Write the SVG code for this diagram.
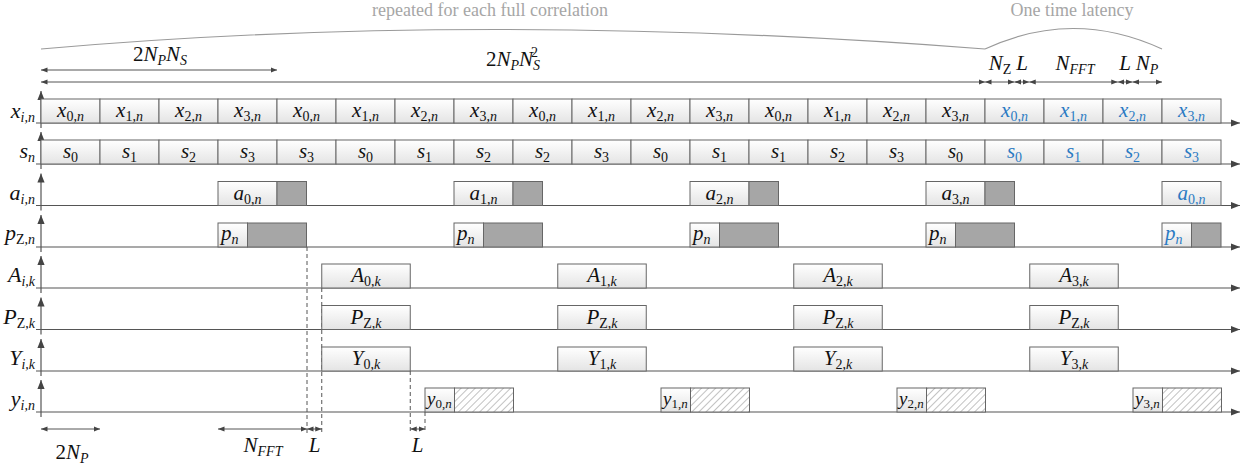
<svg xmlns="http://www.w3.org/2000/svg" width="1242" height="468" viewBox="0 0 1242 468">
  <style>
    .m { font-family: "Liberation Serif", "Times New Roman", serif; font-style: italic; font-size: 21px; fill: #111; }
    .lbl { font-size: 22px; }
    .r { font-style: normal; }
    .sub { font-size: 14px; }
    .blue { fill: #2b7bc3; }
    .note { font-family: "Liberation Serif", "Times New Roman", serif; font-size: 18px; fill: #a6a6a6; }
    .cell { fill: url(#boxfill); stroke: #666; stroke-width: 1; }
    .busy { fill: #a6a6a6; stroke: #666; stroke-width: 1; }
    .hatch { fill: url(#hatch); stroke: #666; stroke-width: 1; }
    .axis { stroke: #555; stroke-width: 1.2; fill: none; }
    .dim { stroke: #555; stroke-width: 1; fill: none; marker-start: url(#ah); marker-end: url(#ah); }
    .dash { stroke: #555; stroke-width: 1; stroke-dasharray: 4 3; fill: none; }
    .brace { stroke: #9a9a9a; stroke-width: 1.2; fill: none; }
    .ysm { font-size: 19px; }
    .ysm .sub { font-size: 13px; }
  </style>
  <defs>
    <linearGradient id="boxfill" x1="0" y1="0" x2="0" y2="1">
      <stop offset="0" stop-color="#ffffff"/>
      <stop offset="1" stop-color="#e4e4e4"/>
    </linearGradient>
    <pattern id="hatch" patternUnits="userSpaceOnUse" width="5" height="5" patternTransform="rotate(45)">
      <rect width="5" height="5" fill="#ffffff"/>
      <line x1="0" y1="0" x2="0" y2="5" stroke="#777" stroke-width="0.9"/>
    </pattern>
    <marker id="ah" viewBox="0 0 10 10" refX="10" refY="5" markerWidth="6.5" markerHeight="6.5" markerUnits="userSpaceOnUse" orient="auto-start-reverse">
      <path d="M0,1 L10,5 L0,9 z" fill="#444"/>
    </marker>
    <marker id="ax" viewBox="0 0 10 10" refX="10" refY="5" markerWidth="9" markerHeight="9" markerUnits="userSpaceOnUse" orient="auto">
      <path d="M0,1 L10,5 L0,9 z" fill="#444"/>
    </marker>
  </defs>

  <!-- header: braces and spans -->
  <g id="header">
    <path class="brace" d="M41,49 Q480,10 985,49"/>
    <text class="note" x="490" y="16" text-anchor="middle">repeated for each full correlation</text>
    <path class="brace" d="M985,49 Q1073,8 1162,49"/>
    <text class="note" x="1072" y="16" text-anchor="middle">One time latency</text>
  </g>

  <g id="connectors">
    <!-- top dimension arrows -->
    <line class="dim" x1="41" y1="70" x2="277" y2="70"/>
    <line class="dim" x1="41" y1="82" x2="985" y2="82"/>
    <line class="dim" x1="985" y1="82" x2="1014.5" y2="82"/>
    <line class="dim" x1="1014.5" y1="82" x2="1029.25" y2="82"/>
    <line class="dim" x1="1029.25" y1="82" x2="1117.75" y2="82"/>
    <line class="dim" x1="1117.75" y1="82" x2="1132.5" y2="82"/>
    <line class="dim" x1="1132.5" y1="82" x2="1162" y2="82"/>

    <!-- time axes of each row -->
    <line class="axis" x1="36" y1="123" x2="1240" y2="123" marker-end="url(#ax)"/>
    <line class="axis" x1="36" y1="164" x2="1240" y2="164" marker-end="url(#ax)"/>
    <line class="axis" x1="36" y1="205.5" x2="1240" y2="205.5" marker-end="url(#ax)"/>
    <line class="axis" x1="36" y1="247" x2="1240" y2="247" marker-end="url(#ax)"/>
    <line class="axis" x1="36" y1="288" x2="1240" y2="288" marker-end="url(#ax)"/>
    <line class="axis" x1="36" y1="329.5" x2="1240" y2="329.5" marker-end="url(#ax)"/>
    <line class="axis" x1="36" y1="371" x2="1240" y2="371" marker-end="url(#ax)"/>
    <line class="axis" x1="36" y1="412" x2="1240" y2="412" marker-end="url(#ax)"/>

    <!-- value axes -->
    <line class="axis" x1="41" y1="128" x2="41" y2="91" marker-end="url(#ax)"/>
    <line class="axis" x1="41" y1="169" x2="41" y2="132" marker-end="url(#ax)"/>
    <line class="axis" x1="41" y1="210.5" x2="41" y2="173.5" marker-end="url(#ax)"/>
    <line class="axis" x1="41" y1="252" x2="41" y2="215" marker-end="url(#ax)"/>
    <line class="axis" x1="41" y1="293" x2="41" y2="256" marker-end="url(#ax)"/>
    <line class="axis" x1="41" y1="334.5" x2="41" y2="297.5" marker-end="url(#ax)"/>
    <line class="axis" x1="41" y1="376" x2="41" y2="339" marker-end="url(#ax)"/>
    <line class="axis" x1="41" y1="417" x2="41" y2="380" marker-end="url(#ax)"/>

    <!-- timing guides -->
    <line class="dash" x1="307" y1="247" x2="307" y2="433"/>
    <line class="dash" x1="321.75" y1="288" x2="321.75" y2="433"/>
    <line class="dash" x1="410.25" y1="371" x2="410.25" y2="433"/>
    <line class="dash" x1="425" y1="412" x2="425" y2="433"/>

    <!-- bottom dimension arrows -->
    <line class="dim" x1="41" y1="429" x2="100" y2="429"/>
    <line class="dim" x1="218" y1="429" x2="307" y2="429"/>
    <line class="dim" x1="307" y1="429" x2="321.75" y2="429"/>
    <line class="dim" x1="410.25" y1="429" x2="425" y2="429"/>
  </g>

  <!-- dimension labels -->
  <g id="dim-labels">
    <text class="m" x="160" y="61" text-anchor="middle"><tspan class="r">2</tspan>N<tspan class="sub" dy="4">P</tspan><tspan dy="-4">N</tspan><tspan class="sub" dy="4">S</tspan></text>
    <text class="m" x="486" y="66"><tspan class="r">2</tspan>N<tspan class="sub" dy="4">P</tspan><tspan dy="-4">N</tspan><tspan class="sub" dy="4">S</tspan></text>
    <text class="m r sub" x="531" y="57">2</text>
    <text class="m" x="1000" y="70" text-anchor="middle">N<tspan class="sub r" dy="4">Z</tspan></text>
    <text class="m" x="1022" y="70" text-anchor="middle">L</text>
    <text class="m" x="1075" y="70" text-anchor="middle">N<tspan class="sub" dy="4">FFT</tspan></text>
    <text class="m" x="1125" y="70" text-anchor="middle">L</text>
    <text class="m" x="1147" y="70" text-anchor="middle">N<tspan class="sub" dy="4">P</tspan></text>
    <text class="m" x="72" y="459" text-anchor="middle"><tspan class="r">2</tspan>N<tspan class="sub" dy="4">P</tspan></text>
    <text class="m" x="263" y="452" text-anchor="middle">N<tspan class="sub" dy="4">FFT</tspan></text>
    <text class="m" x="314.5" y="452" text-anchor="middle">L</text>
    <text class="m" x="417.5" y="452" text-anchor="middle">L</text>
  </g>

  <!-- row labels -->
  <g id="row-labels">
    <text class="m lbl" x="35" y="118" text-anchor="end">x<tspan class="sub" dy="4">i,n</tspan></text>
    <text class="m lbl" x="35" y="158" text-anchor="end">s<tspan class="sub" dy="4">n</tspan></text>
    <text class="m lbl" x="35" y="199.5" text-anchor="end">a<tspan class="sub" dy="4">i,n</tspan></text>
    <text class="m lbl" x="35" y="240" text-anchor="end">p<tspan class="sub" dy="4"><tspan class="r">Z,</tspan>n</tspan></text>
    <text class="m lbl" x="35" y="282" text-anchor="end">A<tspan class="sub" dy="4">i,k</tspan></text>
    <text class="m lbl" x="35" y="323.5" text-anchor="end">P<tspan class="sub" dy="4"><tspan class="r">Z,</tspan>k</tspan></text>
    <text class="m lbl" x="35" y="365" text-anchor="end">Y<tspan class="sub" dy="4">i,k</tspan></text>
    <text class="m lbl" x="35" y="406" text-anchor="end">y<tspan class="sub" dy="4">i,n</tspan></text>
  </g>

  <!-- input samples x -->
  <g id="row-x">
    <g id="x-00"><rect class="cell" x="41" y="99" width="59" height="24"/><text class="m" x="70.5" y="117" text-anchor="middle">x<tspan class="sub" dy="4"><tspan class="r">0,</tspan>n</tspan></text></g>
    <g id="x-01"><rect class="cell" x="100" y="99" width="59" height="24"/><text class="m" x="129.5" y="117" text-anchor="middle">x<tspan class="sub" dy="4"><tspan class="r">1,</tspan>n</tspan></text></g>
    <g id="x-02"><rect class="cell" x="159" y="99" width="59" height="24"/><text class="m" x="188.5" y="117" text-anchor="middle">x<tspan class="sub" dy="4"><tspan class="r">2,</tspan>n</tspan></text></g>
    <g id="x-03"><rect class="cell" x="218" y="99" width="59" height="24"/><text class="m" x="247.5" y="117" text-anchor="middle">x<tspan class="sub" dy="4"><tspan class="r">3,</tspan>n</tspan></text></g>
    <g id="x-04"><rect class="cell" x="277" y="99" width="59" height="24"/><text class="m" x="306.5" y="117" text-anchor="middle">x<tspan class="sub" dy="4"><tspan class="r">0,</tspan>n</tspan></text></g>
    <g id="x-05"><rect class="cell" x="336" y="99" width="59" height="24"/><text class="m" x="365.5" y="117" text-anchor="middle">x<tspan class="sub" dy="4"><tspan class="r">1,</tspan>n</tspan></text></g>
    <g id="x-06"><rect class="cell" x="395" y="99" width="59" height="24"/><text class="m" x="424.5" y="117" text-anchor="middle">x<tspan class="sub" dy="4"><tspan class="r">2,</tspan>n</tspan></text></g>
    <g id="x-07"><rect class="cell" x="454" y="99" width="59" height="24"/><text class="m" x="483.5" y="117" text-anchor="middle">x<tspan class="sub" dy="4"><tspan class="r">3,</tspan>n</tspan></text></g>
    <g id="x-08"><rect class="cell" x="513" y="99" width="59" height="24"/><text class="m" x="542.5" y="117" text-anchor="middle">x<tspan class="sub" dy="4"><tspan class="r">0,</tspan>n</tspan></text></g>
    <g id="x-09"><rect class="cell" x="572" y="99" width="59" height="24"/><text class="m" x="601.5" y="117" text-anchor="middle">x<tspan class="sub" dy="4"><tspan class="r">1,</tspan>n</tspan></text></g>
    <g id="x-10"><rect class="cell" x="631" y="99" width="59" height="24"/><text class="m" x="660.5" y="117" text-anchor="middle">x<tspan class="sub" dy="4"><tspan class="r">2,</tspan>n</tspan></text></g>
    <g id="x-11"><rect class="cell" x="690" y="99" width="59" height="24"/><text class="m" x="719.5" y="117" text-anchor="middle">x<tspan class="sub" dy="4"><tspan class="r">3,</tspan>n</tspan></text></g>
    <g id="x-12"><rect class="cell" x="749" y="99" width="59" height="24"/><text class="m" x="778.5" y="117" text-anchor="middle">x<tspan class="sub" dy="4"><tspan class="r">0,</tspan>n</tspan></text></g>
    <g id="x-13"><rect class="cell" x="808" y="99" width="59" height="24"/><text class="m" x="837.5" y="117" text-anchor="middle">x<tspan class="sub" dy="4"><tspan class="r">1,</tspan>n</tspan></text></g>
    <g id="x-14"><rect class="cell" x="867" y="99" width="59" height="24"/><text class="m" x="896.5" y="117" text-anchor="middle">x<tspan class="sub" dy="4"><tspan class="r">2,</tspan>n</tspan></text></g>
    <g id="x-15"><rect class="cell" x="926" y="99" width="59" height="24"/><text class="m" x="955.5" y="117" text-anchor="middle">x<tspan class="sub" dy="4"><tspan class="r">3,</tspan>n</tspan></text></g>
    <g id="x-16"><rect class="cell" x="985" y="99" width="59" height="24"/><text class="m blue" x="1014.5" y="117" text-anchor="middle">x<tspan class="sub" dy="4"><tspan class="r">0,</tspan>n</tspan></text></g>
    <g id="x-17"><rect class="cell" x="1044" y="99" width="59" height="24"/><text class="m blue" x="1073.5" y="117" text-anchor="middle">x<tspan class="sub" dy="4"><tspan class="r">1,</tspan>n</tspan></text></g>
    <g id="x-18"><rect class="cell" x="1103" y="99" width="59" height="24"/><text class="m blue" x="1132.5" y="117" text-anchor="middle">x<tspan class="sub" dy="4"><tspan class="r">2,</tspan>n</tspan></text></g>
    <g id="x-19"><rect class="cell" x="1162" y="99" width="59" height="24"/><text class="m blue" x="1191.5" y="117" text-anchor="middle">x<tspan class="sub" dy="4"><tspan class="r">3,</tspan>n</tspan></text></g>
  </g>

  <!-- code sequence s -->
  <g id="row-s">
    <g id="s-00"><rect class="cell" x="41" y="140" width="59" height="24"/><text class="m" x="70.5" y="158" text-anchor="middle">s<tspan class="sub r" dy="4">0</tspan></text></g>
    <g id="s-01"><rect class="cell" x="100" y="140" width="59" height="24"/><text class="m" x="129.5" y="158" text-anchor="middle">s<tspan class="sub r" dy="4">1</tspan></text></g>
    <g id="s-02"><rect class="cell" x="159" y="140" width="59" height="24"/><text class="m" x="188.5" y="158" text-anchor="middle">s<tspan class="sub r" dy="4">2</tspan></text></g>
    <g id="s-03"><rect class="cell" x="218" y="140" width="59" height="24"/><text class="m" x="247.5" y="158" text-anchor="middle">s<tspan class="sub r" dy="4">3</tspan></text></g>
    <g id="s-04"><rect class="cell" x="277" y="140" width="59" height="24"/><text class="m" x="306.5" y="158" text-anchor="middle">s<tspan class="sub r" dy="4">3</tspan></text></g>
    <g id="s-05"><rect class="cell" x="336" y="140" width="59" height="24"/><text class="m" x="365.5" y="158" text-anchor="middle">s<tspan class="sub r" dy="4">0</tspan></text></g>
    <g id="s-06"><rect class="cell" x="395" y="140" width="59" height="24"/><text class="m" x="424.5" y="158" text-anchor="middle">s<tspan class="sub r" dy="4">1</tspan></text></g>
    <g id="s-07"><rect class="cell" x="454" y="140" width="59" height="24"/><text class="m" x="483.5" y="158" text-anchor="middle">s<tspan class="sub r" dy="4">2</tspan></text></g>
    <g id="s-08"><rect class="cell" x="513" y="140" width="59" height="24"/><text class="m" x="542.5" y="158" text-anchor="middle">s<tspan class="sub r" dy="4">2</tspan></text></g>
    <g id="s-09"><rect class="cell" x="572" y="140" width="59" height="24"/><text class="m" x="601.5" y="158" text-anchor="middle">s<tspan class="sub r" dy="4">3</tspan></text></g>
    <g id="s-10"><rect class="cell" x="631" y="140" width="59" height="24"/><text class="m" x="660.5" y="158" text-anchor="middle">s<tspan class="sub r" dy="4">0</tspan></text></g>
    <g id="s-11"><rect class="cell" x="690" y="140" width="59" height="24"/><text class="m" x="719.5" y="158" text-anchor="middle">s<tspan class="sub r" dy="4">1</tspan></text></g>
    <g id="s-12"><rect class="cell" x="749" y="140" width="59" height="24"/><text class="m" x="778.5" y="158" text-anchor="middle">s<tspan class="sub r" dy="4">1</tspan></text></g>
    <g id="s-13"><rect class="cell" x="808" y="140" width="59" height="24"/><text class="m" x="837.5" y="158" text-anchor="middle">s<tspan class="sub r" dy="4">2</tspan></text></g>
    <g id="s-14"><rect class="cell" x="867" y="140" width="59" height="24"/><text class="m" x="896.5" y="158" text-anchor="middle">s<tspan class="sub r" dy="4">3</tspan></text></g>
    <g id="s-15"><rect class="cell" x="926" y="140" width="59" height="24"/><text class="m" x="955.5" y="158" text-anchor="middle">s<tspan class="sub r" dy="4">0</tspan></text></g>
    <g id="s-16"><rect class="cell" x="985" y="140" width="59" height="24"/><text class="m blue" x="1014.5" y="158" text-anchor="middle">s<tspan class="sub r" dy="4">0</tspan></text></g>
    <g id="s-17"><rect class="cell" x="1044" y="140" width="59" height="24"/><text class="m blue" x="1073.5" y="158" text-anchor="middle">s<tspan class="sub r" dy="4">1</tspan></text></g>
    <g id="s-18"><rect class="cell" x="1103" y="140" width="59" height="24"/><text class="m blue" x="1132.5" y="158" text-anchor="middle">s<tspan class="sub r" dy="4">2</tspan></text></g>
    <g id="s-19"><rect class="cell" x="1162" y="140" width="59" height="24"/><text class="m blue" x="1191.5" y="158" text-anchor="middle">s<tspan class="sub r" dy="4">3</tspan></text></g>
  </g>

  <!-- zero-padded frames a -->
  <g id="row-a">
    <g id="a-0"><rect class="cell" x="218" y="181.5" width="59" height="24"/><rect class="busy" x="277" y="181.5" width="29.5" height="24"/><text class="m" x="247.5" y="199.5" text-anchor="middle">a<tspan class="sub" dy="4"><tspan class="r">0,</tspan>n</tspan></text></g>
    <g id="a-1"><rect class="cell" x="454" y="181.5" width="59" height="24"/><rect class="busy" x="513" y="181.5" width="29.5" height="24"/><text class="m" x="483.5" y="199.5" text-anchor="middle">a<tspan class="sub" dy="4"><tspan class="r">1,</tspan>n</tspan></text></g>
    <g id="a-2"><rect class="cell" x="690" y="181.5" width="59" height="24"/><rect class="busy" x="749" y="181.5" width="29.5" height="24"/><text class="m" x="719.5" y="199.5" text-anchor="middle">a<tspan class="sub" dy="4"><tspan class="r">2,</tspan>n</tspan></text></g>
    <g id="a-3"><rect class="cell" x="926" y="181.5" width="59" height="24"/><rect class="busy" x="985" y="181.5" width="29.5" height="24"/><text class="m" x="955.5" y="199.5" text-anchor="middle">a<tspan class="sub" dy="4"><tspan class="r">3,</tspan>n</tspan></text></g>
    <g id="a-4"><rect class="cell" x="1162" y="181.5" width="59" height="24"/><text class="m blue" x="1191.5" y="199.5" text-anchor="middle">a<tspan class="sub" dy="4"><tspan class="r">0,</tspan>n</tspan></text></g>
  </g>

  <!-- zero-padded pilot p -->
  <g id="row-p">
    <g id="p-0"><rect class="cell" x="218" y="223" width="29.5" height="24"/><rect class="busy" x="247.5" y="223" width="59" height="24"/><text class="m" x="221" y="240">p<tspan class="sub" dy="4">n</tspan></text></g>
    <g id="p-1"><rect class="cell" x="454" y="223" width="29.5" height="24"/><rect class="busy" x="483.5" y="223" width="59" height="24"/><text class="m" x="457" y="240">p<tspan class="sub" dy="4">n</tspan></text></g>
    <g id="p-2"><rect class="cell" x="690" y="223" width="29.5" height="24"/><rect class="busy" x="719.5" y="223" width="59" height="24"/><text class="m" x="693" y="240">p<tspan class="sub" dy="4">n</tspan></text></g>
    <g id="p-3"><rect class="cell" x="926" y="223" width="29.5" height="24"/><rect class="busy" x="955.5" y="223" width="59" height="24"/><text class="m" x="929" y="240">p<tspan class="sub" dy="4">n</tspan></text></g>
    <g id="p-4"><rect class="cell" x="1162" y="223" width="29.5" height="24"/><rect class="busy" x="1191.5" y="223" width="29.5" height="24"/><text class="m blue" x="1165" y="240">p<tspan class="sub" dy="4">n</tspan></text></g>
  </g>

  <!-- spectra A -->
  <g id="row-A">
    <g id="A-0"><rect class="cell" x="321.75" y="264" width="88.5" height="24"/><text class="m" x="366" y="282" text-anchor="middle">A<tspan class="sub" dy="4"><tspan class="r">0,</tspan>k</tspan></text></g>
    <g id="A-1"><rect class="cell" x="557.75" y="264" width="88.5" height="24"/><text class="m" x="602" y="282" text-anchor="middle">A<tspan class="sub" dy="4"><tspan class="r">1,</tspan>k</tspan></text></g>
    <g id="A-2"><rect class="cell" x="793.75" y="264" width="88.5" height="24"/><text class="m" x="838" y="282" text-anchor="middle">A<tspan class="sub" dy="4"><tspan class="r">2,</tspan>k</tspan></text></g>
    <g id="A-3"><rect class="cell" x="1029.75" y="264" width="88.5" height="24"/><text class="m" x="1074" y="282" text-anchor="middle">A<tspan class="sub" dy="4"><tspan class="r">3,</tspan>k</tspan></text></g>
  </g>

  <!-- pilot spectrum P -->
  <g id="row-P">
    <g id="P-0"><rect class="cell" x="321.75" y="305.5" width="88.5" height="24"/><text class="m" x="366" y="323.5" text-anchor="middle">P<tspan class="sub" dy="4"><tspan class="r">Z,</tspan>k</tspan></text></g>
    <g id="P-1"><rect class="cell" x="557.75" y="305.5" width="88.5" height="24"/><text class="m" x="602" y="323.5" text-anchor="middle">P<tspan class="sub" dy="4"><tspan class="r">Z,</tspan>k</tspan></text></g>
    <g id="P-2"><rect class="cell" x="793.75" y="305.5" width="88.5" height="24"/><text class="m" x="838" y="323.5" text-anchor="middle">P<tspan class="sub" dy="4"><tspan class="r">Z,</tspan>k</tspan></text></g>
    <g id="P-3"><rect class="cell" x="1029.75" y="305.5" width="88.5" height="24"/><text class="m" x="1074" y="323.5" text-anchor="middle">P<tspan class="sub" dy="4"><tspan class="r">Z,</tspan>k</tspan></text></g>
  </g>

  <!-- products Y -->
  <g id="row-Y">
    <g id="Y-0"><rect class="cell" x="321.75" y="347" width="88.5" height="24"/><text class="m" x="366" y="365" text-anchor="middle">Y<tspan class="sub" dy="4"><tspan class="r">0,</tspan>k</tspan></text></g>
    <g id="Y-1"><rect class="cell" x="557.75" y="347" width="88.5" height="24"/><text class="m" x="602" y="365" text-anchor="middle">Y<tspan class="sub" dy="4"><tspan class="r">1,</tspan>k</tspan></text></g>
    <g id="Y-2"><rect class="cell" x="793.75" y="347" width="88.5" height="24"/><text class="m" x="838" y="365" text-anchor="middle">Y<tspan class="sub" dy="4"><tspan class="r">2,</tspan>k</tspan></text></g>
    <g id="Y-3"><rect class="cell" x="1029.75" y="347" width="88.5" height="24"/><text class="m" x="1074" y="365" text-anchor="middle">Y<tspan class="sub" dy="4"><tspan class="r">3,</tspan>k</tspan></text></g>
  </g>

  <!-- correlation outputs y -->
  <g id="row-y">
    <g id="y-0"><rect class="cell" x="425" y="388" width="29.5" height="24"/><rect class="hatch" x="454.5" y="388" width="59" height="24"/><text class="m ysm" x="427" y="405">y<tspan class="sub" dy="3"><tspan class="r">0,</tspan>n</tspan></text></g>
    <g id="y-1"><rect class="cell" x="661" y="388" width="29.5" height="24"/><rect class="hatch" x="690.5" y="388" width="59" height="24"/><text class="m ysm" x="663" y="405">y<tspan class="sub" dy="3"><tspan class="r">1,</tspan>n</tspan></text></g>
    <g id="y-2"><rect class="cell" x="897" y="388" width="29.5" height="24"/><rect class="hatch" x="926.5" y="388" width="59" height="24"/><text class="m ysm" x="899" y="405">y<tspan class="sub" dy="3"><tspan class="r">2,</tspan>n</tspan></text></g>
    <g id="y-3"><rect class="cell" x="1133" y="388" width="29.5" height="24"/><rect class="hatch" x="1162.5" y="388" width="59" height="24"/><text class="m ysm" x="1135" y="405">y<tspan class="sub" dy="3"><tspan class="r">3,</tspan>n</tspan></text></g>
  </g>
</svg>
